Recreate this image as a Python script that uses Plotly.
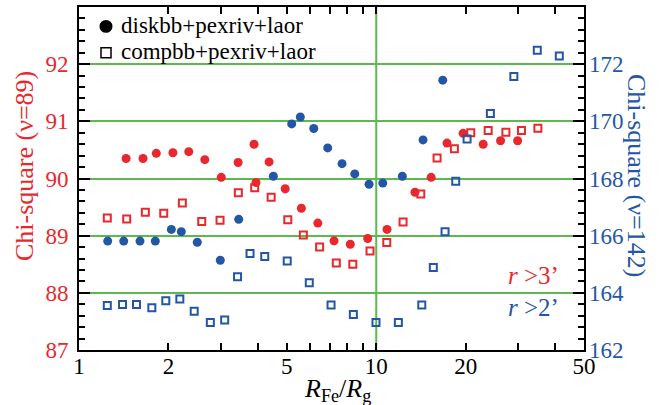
import plotly.graph_objects as go

# ---- data ----
disk_r_x = [1.44, 1.642, 1.82, 2.07, 2.34, 2.65, 3.01, 3.43, 3.88, 3.94, 4.36, 4.94, 5.60,
            6.36, 7.21, 8.18, 9.36, 10.87, 13.5, 15.3, 17.3, 19.6, 22.9, 26.2, 29.9]
disk_r_y = [90.35, 90.35, 90.44, 90.45, 90.47, 90.33, 90.02, 90.28, 90.60, 89.93, 90.29, 89.82, 89.48,
            89.22, 88.91, 88.85, 88.95, 89.11, 89.76, 90.02, 90.62, 90.79, 90.60, 90.66, 90.66]

comp_r_x = [1.245, 1.447, 1.672, 1.928, 2.227, 2.588, 2.982, 3.436, 3.90, 4.43, 5.04, 5.685, 6.45,
            7.34, 8.34, 9.53, 10.85, 12.31, 14.12, 16.02, 18.32, 20.8, 23.8, 27.3, 30.8, 34.98]
comp_r_y = [89.31, 89.29, 89.41, 89.39, 89.57, 89.25, 89.27, 89.75, 89.84, 89.67, 89.28, 89.01, 88.80,
            88.52, 88.50, 88.73, 88.88, 89.24, 89.73, 90.36, 90.52, 90.80, 90.84, 90.81, 90.84, 90.88]

disk_b_x = [1.249, 1.414, 1.604, 1.806, 2.045, 2.209, 2.50, 2.988, 3.446, 4.507, 5.196, 5.554,
            6.163, 6.867, 7.673, 8.468, 9.459, 10.52, 12.24, 14.37, 16.74]
disk_b_y = [165.81, 165.81, 165.81, 165.81, 166.22, 166.14, 165.77, 165.14, 166.57, 168.08, 169.91, 170.15,
            169.75, 169.07, 168.52, 168.16, 167.80, 167.84, 168.08, 169.35, 171.44]

comp_b_x = [1.245, 1.401, 1.561, 1.758, 1.959, 2.184, 2.441, 2.766, 3.091, 3.415, 3.762, 4.216, 5.018,
            5.953, 7.046, 8.375, 9.98, 11.87, 14.23, 15.56, 17.04, 18.51, 20.21, 24.21, 29.04, 34.82, 41.3]
comp_b_y = [163.56, 163.59, 163.59, 163.48, 163.72, 163.78, 163.36, 162.96, 163.05, 164.56, 165.38, 165.27, 165.11,
            164.35, 163.57, 163.24, 162.96, 162.96, 163.57, 164.89, 166.14, 167.90, 169.38, 170.27, 171.57, 172.49, 172.29]

left_ticks = [87, 88, 89, 90, 91, 92]
right_ticks = [162, 164, 166, 168, 170, 172]
x_ticks = [1, 2, 5, 10, 20, 50]
x_minor = [3, 4, 6, 7, 8, 9, 30, 40]
legend_names = ["diskbb+pexriv+laor", "compbb+pexriv+laor"]

RED = "#e8282c"
BLUE = "#2456a6"
GREEN = "#5cb94e"
FONT = "Liberation Serif"

fig = go.Figure()

fig.add_trace(go.Scatter(x=comp_r_x, y=comp_r_y, mode="markers", showlegend=False,
                         marker=dict(symbol="square-open", size=7, color=RED, line=dict(width=2, color=RED))))
fig.add_trace(go.Scatter(x=comp_b_x, y=comp_b_y, mode="markers", showlegend=False, yaxis="y2",
                         marker=dict(symbol="square-open", size=7, color=BLUE, line=dict(width=2, color=BLUE))))
fig.add_trace(go.Scatter(x=disk_r_x, y=disk_r_y, mode="markers", showlegend=False,
                         marker=dict(symbol="circle", size=9, color=RED, line=dict(width=0))))
fig.add_trace(go.Scatter(x=disk_b_x, y=disk_b_y, mode="markers", showlegend=False, yaxis="y2",
                         marker=dict(symbol="circle", size=9, color=BLUE, line=dict(width=0))))

def px2x(px):
    return (px - 79) / 505.0

def px2y(py):
    return (350 - py) / 345.0

def ann(text, px, py, size, color, angle=0, xanchor="center", yanchor="middle"):
    return dict(text=text, x=px2x(px), y=px2y(py), xref="paper", yref="paper",
                xanchor=xanchor, yanchor=yanchor, textangle=angle, showarrow=False,
                font=dict(size=size, family=FONT, color=color))

shapes = [
    dict(type="line", xref="x", yref="paper", x0=10, x1=10, y0=0, y1=1,
         line=dict(color=GREEN, width=2), layer="below"),
    # legend symbols
    dict(type="circle", xref="paper", yref="paper", x0=px2x(99.5), x1=px2x(112.5),
         y0=px2y(31), y1=px2y(18), fillcolor="black", line=dict(width=0)),
    dict(type="rect", xref="paper", yref="paper", x0=px2x(101), x1=px2x(111),
         y0=px2y(56), y1=px2y(46), fillcolor="rgba(0,0,0,0)", line=dict(width=1.5, color="black")),
]

fig.update_layout(
    width=664, height=405,
    margin=dict(l=79, r=80, t=5, b=55),
    plot_bgcolor="white", paper_bgcolor="white",
    showlegend=False,
    font=dict(family=FONT, size=23, color="black"),
    xaxis=dict(type="log", range=[0, 1.69897], tickvals=x_ticks, ticktext=[str(v) for v in x_ticks],
               ticks="inside", ticklen=7, tickwidth=1.5, tickcolor="black",
               showline=True, linewidth=2, linecolor="black", mirror="ticks", showgrid=False,
               zeroline=False, tickfont=dict(size=23, family=FONT, color="black"), ticklabelstandoff=-6,
               minor=dict(tickvals=x_minor, ticks="inside", ticklen=7, tickwidth=1.5, tickcolor="black", showgrid=False)),
    yaxis=dict(range=[87, 93], tickvals=left_ticks, ticks="inside", ticklen=11, tickwidth=2, tickcolor="black",
               showline=True, linewidth=2, linecolor="black", mirror="ticks",
               showgrid=True, gridcolor=GREEN, gridwidth=2, zeroline=False,
               tickfont=dict(size=23, family=FONT, color=RED), ticklabelstandoff=4,
               minor=dict(tick0=87, dtick=0.2, ticks="inside", ticklen=6, tickwidth=1.5, tickcolor="black", showgrid=False)),
    yaxis2=dict(range=[162, 174], tickvals=right_ticks, overlaying="y", side="right", ticks="",
                showline=False, showgrid=False, zeroline=False,
                tickfont=dict(size=23, family=FONT, color=BLUE), ticklabelstandoff=4),
    shapes=shapes,
    annotations=[
        ann("Chi-square (ν=89)", 24, 165, 26, RED, angle=-90),
        ann("Chi-square (ν=142)", 637, 174, 26, BLUE, angle=90),
        ann("<i>R</i><sub>Fe</sub>/<i>R</i><sub>g</sub>", 337, 390, 26, "black"),
        ann("<i>r</i> >3’", 561, 275, 25, RED, xanchor="right"),
        ann("<i>r</i> >2’", 561, 307, 25, BLUE, xanchor="right"),
        ann(legend_names[0], 119, 24, 23, "black", xanchor="left"),
        ann(legend_names[1], 119, 50, 23, "black", xanchor="left"),
    ],
)

fig.write_html("out.html")
